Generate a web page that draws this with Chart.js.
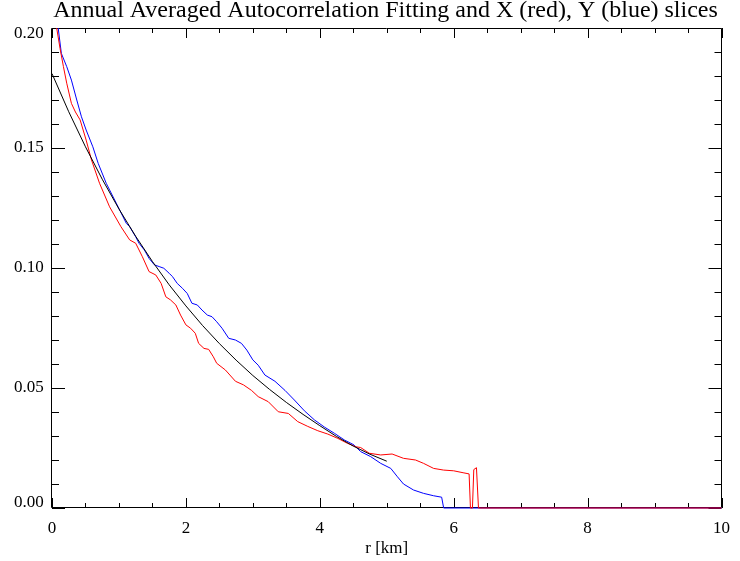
<!DOCTYPE html>
<html>
<head>
<meta charset="utf-8">
<title>Annual Averaged Autocorrelation Fitting</title>
<script src="https://cdn.jsdelivr.net/npm/chart.js@4/dist/chart.umd.min.js"></script>
<style>
    html, body { margin: 0; padding: 0; background: #fff; }
    #wrap { width: 740px; height: 561px; }
</style>
</head>
<body>
<div id="wrap"><canvas id="acfChart" width="740" height="561"></canvas></div>
<script>
// X slice (red)
const redR = [0.03, 0.07, 0.12, 0.17, 0.22, 0.29, 0.35, 0.42, 0.51, 0.59, 0.71, 0.86, 1.03, 1.16, 1.25,
    1.35, 1.45, 1.55, 1.63, 1.70, 1.77, 1.85, 1.92, 2.00, 2.07, 2.14, 2.19, 2.27, 2.34, 2.41, 2.46,
    2.59, 2.74, 2.86, 2.98,
    3.08, 3.23, 3.38, 3.53, 3.67, 3.82, 3.97, 4.12, 4.27, 4.41, 4.54, 4.61, 4.74, 4.91, 5.08, 5.25,
    5.43, 5.55, 5.70, 5.85, 6.00, 6.14, 6.23, 6.25, 6.28, 6.30, 6.34, 6.37, 10];
const redAcf = [0.215, 0.200, 0.1915, 0.184, 0.177, 0.1686, 0.165, 0.1617, 0.1533, 0.145, 0.1353, 0.1255, 0.1172, 0.1117, 0.1103,
    0.1047, 0.0985, 0.0971, 0.0936, 0.0880, 0.0867, 0.0846, 0.0804, 0.0763, 0.0749, 0.0728, 0.0686, 0.0665, 0.0661, 0.0630, 0.0603,
    0.0575, 0.0528, 0.0513, 0.0490,
    0.0464, 0.0443, 0.0401, 0.0394, 0.0360, 0.0340, 0.0322, 0.0308, 0.0290, 0.0270, 0.0255, 0.0252, 0.0228, 0.0221, 0.0225, 0.0207,
    0.0200, 0.0186, 0.0165, 0.0158, 0.0155, 0.0147, 0.0142, 0.0, 0.0, 0.0160, 0.0168, 0.0, 0.0];

// Y slice (blue)
const blueR = [0.03, 0.09, 0.14, 0.22, 0.29, 0.37, 0.44, 0.51, 0.61, 0.69, 0.81, 0.96, 1.11, 1.16, 1.25,
    1.30, 1.38, 1.45, 1.53, 1.60, 1.67, 1.75, 1.80, 1.87, 1.95, 2.02, 2.09, 2.17, 2.24, 2.32, 2.39,
    2.46, 2.54, 2.64, 2.74, 2.83, 2.91, 3.00, 3.08, 3.18, 3.33,
    3.48, 3.62, 3.77, 3.92, 4.07, 4.22, 4.37, 4.51, 4.61, 4.76, 4.91, 5.06, 5.16, 5.25, 5.40, 5.55,
    5.70, 5.82, 5.85, 10];
const blueAcf = [0.215, 0.2005, 0.1894, 0.1839, 0.1783, 0.170, 0.163, 0.1575, 0.1505, 0.1436, 0.1353, 0.127, 0.1186, 0.1172, 0.113,
    0.1103, 0.1075, 0.104, 0.1013, 0.1006, 0.0999, 0.0978, 0.0964, 0.0936, 0.0915, 0.0894, 0.0853, 0.0846, 0.0825, 0.0804, 0.0797,
    0.0776, 0.0749, 0.0707, 0.070, 0.0686, 0.0658, 0.0617, 0.0595, 0.0554, 0.0528,
    0.049, 0.045, 0.0405, 0.0367, 0.0337, 0.0311, 0.0283, 0.0263, 0.0235, 0.0214, 0.0186, 0.0165, 0.013, 0.010, 0.0075, 0.0061,
    0.0051, 0.0045, 0.0, 0.0];

// fitted curve (black)
const fitR = [0, 0.25, 0.5, 0.75, 1.0, 1.25, 1.5, 1.75, 2.0, 2.25, 2.5, 2.75, 3.0, 3.25, 3.5, 3.75, 4.0, 4.25, 4.5, 4.75, 5.0];
const fitAcf = [0.181, 0.1651, 0.1505, 0.137, 0.1246, 0.1132, 0.1027, 0.093, 0.0842, 0.076, 0.0685, 0.0616, 0.0552, 0.0494,
    0.044, 0.039, 0.0343, 0.0298, 0.0258, 0.0224, 0.0195];

const xTicks = [0, 2, 4, 6, 8, 10];
const yTicks = [0.00, 0.05, 0.10, 0.15, 0.20];

const serif = "'Liberation Serif', 'Times New Roman', serif";

function pts(xs, ys) {
    return xs.map((x, i) => ({ x: x, y: ys[i] }));
}

// IDL style frame: box with inward ticks on all four sides
const idlFrame = {
    id: "idlFrame",
    beforeDatasetsDraw(chart) {
        const ctx = chart.ctx;
        const a = chart.chartArea;
        const sx = chart.scales.x;
        const sy = chart.scales.y;
        ctx.save();
        ctx.strokeStyle = "#000";
        ctx.lineWidth = 1;
        ctx.beginPath();
        ctx.rect(Math.round(a.left) - 0.5, Math.round(a.top) + 0.5,
            Math.round(a.right - a.left), Math.round(a.bottom - a.top) - 1);
        // x ticks, minor every 0.5
        for (let v = 0; v <= 10.001; v += 0.5) {
            const px = Math.round(sx.getPixelForValue(v)) + 0.5;
            const len = (Math.abs(v / 2 - Math.round(v / 2)) < 1e-6) ? 10 : 5;
            ctx.moveTo(px, a.bottom);
            ctx.lineTo(px, a.bottom - len);
            ctx.moveTo(px, a.top);
            ctx.lineTo(px, a.top + len);
        }
        // y ticks, minor every 0.01
        for (let i = 0; i <= 20; i++) {
            const py = Math.round(sy.getPixelForValue(i * 0.01)) + 0.5;
            const len = (i % 5 === 0) ? 13 : 7;
            ctx.moveTo(a.left, py);
            ctx.lineTo(a.left + len, py);
            ctx.moveTo(a.right, py);
            ctx.lineTo(a.right - len, py);
        }
        ctx.stroke();
        ctx.restore();
    },
};

window.onload = function () {
    const ctx = document.getElementById("acfChart").getContext("2d");
    const lineOpts = { borderWidth: 1, pointRadius: 0, tension: 0, clip: { left: 0, top: 0, right: 0, bottom: 3 } };
    new Chart(ctx, {
        type: "line",
        data: {
            datasets: [
                Object.assign({ label: "fit", data: pts(fitR, fitAcf), borderColor: "#000000" }, lineOpts),
                Object.assign({ label: "X (red)", data: pts(redR, redAcf), borderColor: "#ff0000" }, lineOpts),
                Object.assign({ label: "Y (blue)", data: pts(blueR, blueAcf), borderColor: "#0000ff" }, lineOpts),
            ],
        },
        options: {
            responsive: false,
            animation: false,
            events: [],
            // left padding keeps the title centred over the plot box
            layout: { padding: { left: 44, right: 13, top: 0, bottom: 0 } },
            plugins: {
                legend: { display: false },
                tooltip: { enabled: false },
                title: {
                    display: true,
                    text: "Annual Averaged Autocorrelation Fitting and X (red), Y (blue) slices",
                    color: "#000",
                    font: { family: serif, size: 24, weight: "normal", lineHeight: 0.9 },
                    padding: { top: 0, bottom: 6.4 },
                },
            },
            scales: {
                x: {
                    type: "linear",
                    min: 0,
                    max: 10,
                    afterFit(scale) { scale.height = 53; },
                    afterBuildTicks(scale) { scale.ticks = xTicks.map((v) => ({ value: v })); },
                    grid: { display: false, drawTicks: false },
                    border: { display: false },
                    ticks: {
                        color: "#000",
                        font: { family: serif, size: 17 },
                        padding: 10,
                        maxRotation: 0,
                        callback: (v) => String(v),
                    },
                    title: {
                        display: true,
                        text: "r [km]",
                        color: "#000",
                        font: { family: serif, size: 17 },
                        padding: { top: 0, bottom: 2 },
                    },
                },
                y: {
                    type: "linear",
                    min: 0,
                    max: 0.2,
                    afterFit(scale) { scale.width = 8; },
                    afterBuildTicks(scale) { scale.ticks = yTicks.map((v) => ({ value: v })); },
                    grid: { display: false, drawTicks: false },
                    border: { display: false },
                    ticks: {
                        color: "#000",
                        font: { family: serif, size: 17, lineHeight: 0.6 },
                        // mirrored so the labels are not clipped to the narrow axis box
                        mirror: true,
                        crossAlign: "far",
                        padding: -38,
                        // end labels sit inside the axis range, as in the original plot
                        callback: (v) => {
                            const s = v.toFixed(2);
                            if (v >= 0.2 - 1e-9) return ["", s];
                            if (v <= 1e-9) return [s, ""];
                            return s;
                        },
                    },
                },
            },
        },
        plugins: [idlFrame],
    });
};
</script>
</body>
</html>
